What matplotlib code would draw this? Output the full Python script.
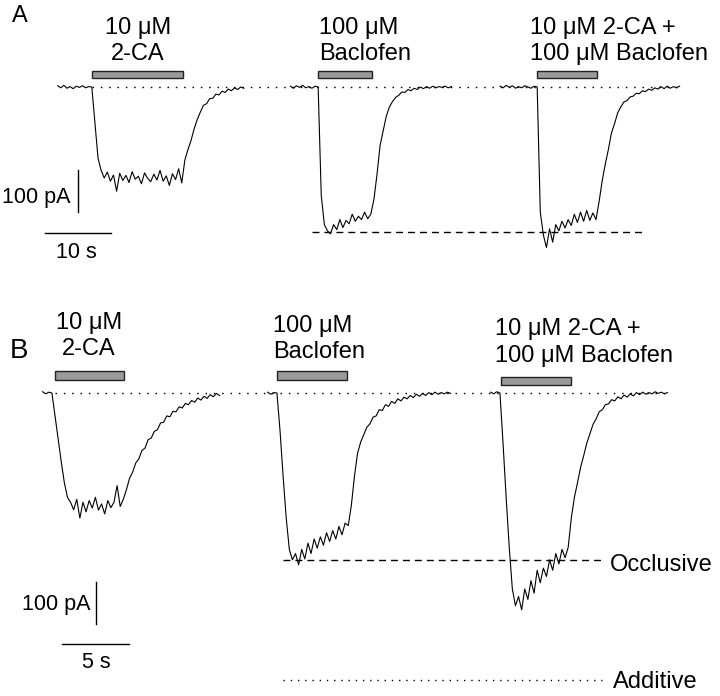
import numpy as np
import matplotlib
import matplotlib.pyplot as plt
from matplotlib.patches import Rectangle

matplotlib.use('Agg')
plt.rcParams['font.family'] = ['Liberation Sans', 'DejaVu Sans']

# --- data (currents in pA) ---
# Panel A
a_ca_i = [3, -2, 4, -3, 1, -4, 2, -1, 3, -2, 1, 0, -85, -170, -200,
          -218, -204, -226, -211, -250, -207, -224, -212, -229, -203, -221, -214, -232,
          -206, -219, -227, -209, -223, -200, -226, -213, -236, -208, -222, -196, -230,
          -175, -150, -128, -100, -78, -60, -44, -40, -28, -27, -17, -19, -10, -13,
          -5, -9, -2, -6, 0, -3]
a_bac_i = [2, -3, 3, -1, 4, -2, 1, -3, 2, 0, -260, -330, -345,
           -352, -330, -342, -318, -337, -320, -328, -305, -322, -310, -318, -300, -316, -305,
           -270, -210, -140, -105, -70, -48, -35, -25, -20, -12, -13, -6, -9, -3, -6, 0,
           -4, 1, -3, 2, -2, 1, -1, 2, -2, 1]
a_both_i = [2, -2, 4, -1, 3, -3, 1, -2, 3, 0, -3, 2, 0, -300, -355, -385,
            -340, -372, -330, -345, -322, -338, -318, -332, -305, -325, -300, -322, -296,
            -320, -302, -318, -275, -225, -185, -150, -110, -88, -62, -48, -36, -33, -24,
            -22, -15, -16, -9, -11, -5, -8, -2, -5, 1, -4, 2, -3, 1, -2, 2]
a_ca_t = np.linspace(-5.2, 23.0, len(a_ca_i))
a_bac_t = np.linspace(-4.2, 20.2, len(a_bac_i))
a_both_t = np.linspace(-5.6, 21.6, len(a_both_i))

# Panel B
b_ca_i = [3, -2, 2, 0, -55, -110, -165, -215, -250, -262,
          -280, -255, -300, -262, -285, -258, -276, -250, -281, -266, -290, -258, -275,
          -262, -222, -272,
          -255, -232, -205, -190, -168, -158, -138, -132, -112, -108, -92, -88, -72, -70,
          -55, -57, -44, -45, -33, -36, -25, -28, -18, -22, -12, -17, -8, -13, -4, -9,
          -1, -6]
b_bac_i = [2, -3, 1, 0, -90, -200, -300, -375, -400, -385, -412, -375, -398, -360,
           -385, -350, -372, -345, -365, -335, -356, -330, -350, -320, -340, -312, -318,
           -270, -200, -145, -118, -100, -82, -74, -58, -55, -40, -42, -28, -32, -20, -25,
           -14, -19, -10, -14, -6, -11, -3, -8, -1, -6, 1, -4, 2, -3, 1, -2, 2, -1]
b_both_i = [2, -2, 3, 0, -120, -250, -370, -470, -510, -488, -520, -470, -495, -450,
            -480, -425, -455, -420, -440, -400, -425, -385, -410, -375, -395, -370,
            -300, -250, -215, -178, -150, -120, -98, -75, -62, -45, -40, -28, -26, -16,
            -19, -9, -14, -5, -10, -2, -7, 1, -4, 2, -3, 1, -2, 3, -1, 2, -2, 1]
b_ca_t = np.linspace(-0.7, 12.5, len(b_ca_i))
b_bac_t = np.linspace(-0.7, 12.95, len(b_bac_i))
b_both_t = np.linspace(-0.7, 12.5, len(b_both_i))

# drug application bars: (delay after onset, duration) in s
a_bars = [(0.0, 13.8), (0.0, 8.2), (0.0, 9.1)]
b_bars = [(0.2, 5.2), (0.0, 5.2), (0.07, 5.2)]

a_labels = [["10 \u03bcM", "2-CA"], ["100 \u03bcM", "Baclofen"],
            ["10 \u03bcM 2-CA +", "100 \u03bcM Baclofen"]]
b_labels = a_labels

occlusive_level = -400   # pA
additive_level = -688    # pA
a_peak_level = -348      # pA

# --- layout (pixel scale of the original figure) ---
W, H = 720, 696
A_PX_S, B_PX_S, PX_PA = 6.6, 13.4, 0.417
A_BASE, B_BASE = 87, 393

fig = plt.figure(figsize=(W / 100, H / 100), dpi=100)
fig.patch.set_facecolor('white')

ax_a = fig.add_axes([0, 0, 1, 1])
ax_a.set_xlim(0, W / A_PX_S)
ax_a.set_ylim(-(H - A_BASE) / PX_PA, A_BASE / PX_PA)
ax_b = fig.add_axes([0, 0, 1, 1])
ax_b.set_xlim(0, W / B_PX_S)
ax_b.set_ylim(-(H - B_BASE) / PX_PA, B_BASE / PX_PA)
for ax in (ax_a, ax_b):
    ax.axis('off')
    ax.patch.set_alpha(0)

a_onsets = [92 / A_PX_S, 318 / A_PX_S, 537 / A_PX_S]
b_onsets = [52 / B_PX_S, 277 / B_PX_S, 500 / B_PX_S]

dotted = (0, (1.1, 4.9))
dashed = (0, (5.0, 3.6))


def draw_panel(ax, onsets, traces, bars, bar_y):
    for on, (t, i) in zip(onsets, traces):
        ax.plot(on + t, i, color='black', lw=0.8)
    for on, (d, w), (y0, h) in zip(onsets, bars, bar_y):
        ax.add_patch(Rectangle((on + d, y0), w, h, facecolor='#9a9a9a',
                               edgecolor='#222222', lw=1.0))


draw_panel(ax_a, a_onsets,
           [(a_ca_t, a_ca_i), (a_bac_t, a_bac_i), (a_both_t, a_both_i)],
           a_bars, [(21.6, 16.8)] * 3)
draw_panel(ax_b, b_onsets,
           [(b_ca_t, b_ca_i), (b_bac_t, b_bac_i), (b_both_t, b_both_i)],
           b_bars, [(31.2, 21.6), (31.2, 21.6), (19.2, 19.2)])

# reference lines
ax_a.plot([92 / A_PX_S, 680 / A_PX_S], [0, 0], color='black', lw=1.0, ls=dotted)
ax_a.plot([312 / A_PX_S, 645 / A_PX_S], [a_peak_level] * 2, color='black', lw=1.0, ls=dashed)
ax_b.plot([55 / B_PX_S, 668 / B_PX_S], [0, 0], color='black', lw=1.0, ls=dotted)
ax_b.plot([283 / B_PX_S, 603 / B_PX_S], [occlusive_level] * 2, color='black', lw=1.0, ls=dashed)
ax_b.plot([283 / B_PX_S, 602 / B_PX_S], [additive_level] * 2, color='black', lw=1.0,
          ls=(0, (1.0, 4.2)))

# scale bars
ax_a.plot([78 / A_PX_S] * 2, [-199, -299], color='black', lw=1.0)
ax_a.plot([45 / A_PX_S, 45 / A_PX_S + 10], [-350, -350], color='black', lw=1.0)
ax_b.plot([96 / B_PX_S] * 2, [-453, -553], color='black', lw=1.0)
ax_b.plot([62 / B_PX_S, 62 / B_PX_S + 5], [-602, -602], color='black', lw=1.0)


def ftext(x, y, s, size=17, ha='left'):
    fig.text(x / W, 1 - y / H, s, fontsize=size, ha=ha, va='baseline', color='black')


# drug labels
ftext(138, 34, a_labels[0][0], ha='center')
ftext(138, 60, a_labels[0][1], ha='center')
ftext(319, 34, a_labels[1][0])
ftext(319, 60, a_labels[1][1])
ftext(530, 34, a_labels[2][0])
ftext(530, 60, a_labels[2][1])

ftext(89, 329, b_labels[0][0], ha='center')
ftext(89, 355, b_labels[0][1], ha='center')
ftext(273, 332, b_labels[1][0])
ftext(273, 358, b_labels[1][1])
ftext(495, 335, b_labels[2][0])
ftext(495, 362, b_labels[2][1])

# panel letters and scale labels
ftext(12, 22, "A", size=17)
ftext(10, 358, "B", size=20)
ftext(71, 203, "100 pA", size=15.5, ha='right')
ftext(76, 258, "10 s", size=15.5, ha='center')
ftext(91, 610, "100 pA", size=15.5, ha='right')
ftext(96, 668, "5 s", size=15.5, ha='center')
ftext(610, 571, "Occlusive")
ftext(613, 688, "Additive")

fig.savefig('out.png', dpi=100)
